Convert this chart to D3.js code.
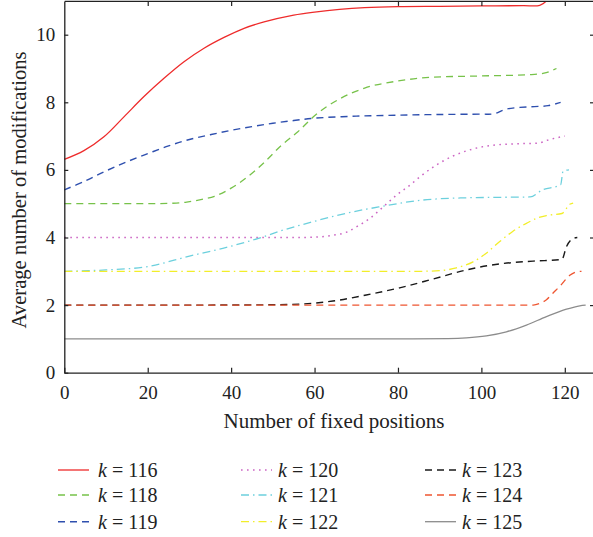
<!DOCTYPE html>
<html>
<head>
<meta charset="utf-8">
<script src="https://cdn.jsdelivr.net/npm/d3@7"></script>
<style>
body { margin: 0; background: #fff; }
svg { display: block; font-family: "Liberation Serif", "DejaVu Serif", serif; }
</style>
</head>
<body>
<svg id="chart" width="593" height="537"></svg>
<script>
// values: [fixed positions, average modifications]
var k116 = [[0,6.31],[4.7,6.57],[9.5,6.98],[14.3,7.57],[19.1,8.17],[23.9,8.71],[28.7,9.2],[33.5,9.6],[38.3,9.92],[43.1,10.19],[47.9,10.38],[55,10.58],[60,10.67],[66,10.75],[72,10.8],[80,10.83],[90,10.84],[100,10.85],[110,10.86],[114,10.87],[116,11.05],[117,11.3]];
var k118 = [[0,5],[10,5],[20,5],[25,5.01],[29,5.04],[33,5.13],[36,5.22],[40,5.46],[44,5.8],[48,6.23],[52,6.72],[56,7.13],[60,7.6],[66,8.1],[72,8.42],[80,8.63],[88,8.74],[100,8.78],[112,8.82],[115,8.86],[118,9.0]];
var k119 = [[0,5.41],[5,5.67],[10,5.97],[15,6.24],[20,6.48],[25,6.71],[30,6.9],[35,7.04],[40,7.17],[45,7.28],[50,7.38],[55,7.46],[60,7.53],[70,7.59],[80,7.62],[90,7.64],[100,7.65],[103,7.66],[106,7.8],[112,7.87],[116,7.9],[119,8.0]];
var k120 = [[0,4],[20,4],[40,4],[55,4],[60,4.01],[64.5,4.07],[67.7,4.16],[70.1,4.32],[73.3,4.57],[76.5,4.91],[79.7,5.26],[82.9,5.55],[85.3,5.8],[88.9,6.12],[93.2,6.41],[98,6.62],[102,6.72],[108,6.77],[113.7,6.79],[115.6,6.87],[120,7.0]];
var k121 = [[0,3.0],[10,3.04],[20,3.14],[30,3.45],[38,3.68],[47.7,4.02],[52,4.2],[59.7,4.47],[67.7,4.72],[75.7,4.91],[85.3,5.1],[95,5.17],[105,5.19],[111.7,5.2],[114.5,5.4],[119,5.56],[119.6,5.97],[121,6.0]];
var k122 = [[0,3],[30,3],[60,3],[85,3],[90,3.02],[94,3.1],[98,3.28],[101,3.52],[104.4,3.88],[107.5,4.18],[110.8,4.42],[113.5,4.58],[115.6,4.65],[119.3,4.71],[121.3,4.99],[122,5.02]];
var k123 = [[0,2],[30,2],[50,2.01],[56.5,2.03],[64.4,2.12],[72.4,2.3],[80.4,2.51],[88.4,2.77],[96.4,3.04],[104.4,3.22],[112.4,3.3],[119.3,3.35],[120.4,3.73],[122,3.97],[123,4.0]];
var k124 = [[0,2],[40,2],[80,2],[112.4,2.0],[114,2.05],[115.6,2.16],[117.2,2.36],[118.9,2.57],[121.2,2.88],[123,2.99],[124,3.0]];
var k125 = [[0,1],[40,1],[80,1],[92,1.01],[96.4,1.03],[101.2,1.09],[106,1.21],[110.8,1.41],[115.6,1.66],[120.4,1.88],[123.6,1.98],[125,2.0]];

var seriesNames = ["k = 116","k = 118","k = 119","k = 120","k = 121","k = 122","k = 123","k = 124","k = 125"];
var seriesData = [k116,k118,k119,k120,k121,k122,k123,k124,k125];
var xTicks = [0,20,40,60,80,100,120];
var yTicks = [0,2,4,6,8,10];

var colors = ["#ee2b2b","#77c24a","#2e4fae","#cc66c4","#6cd0dd","#f2ee2a","#1a1a1a","#ee5530","#8c8c8c"];
var dashes = [null,"7,5","7,5","1.6,4.4","8,4,1.5,4","8,4,1.5,4","7,5","7,5",null];
var widths = [1.3,1.3,1.4,1.5,1.3,1.3,1.4,1.3,1.3];

var svg = d3.select("#chart");
var x = d3.scaleLinear().domain([0,127]).range([64.3,594]);
var y = d3.scaleLinear().domain([0,11]).range([372.7,0.9]);

svg.append("clipPath").attr("id","clip")
  .append("rect").attr("x",64).attr("y",0.9).attr("width",540).attr("height",372);

function lineFor(i) {
  // red and blue are smooth throughout; the others have sharp steps near the end
  var curve = (i === 0 || i === 2) ? d3.curveCatmullRom.alpha(0.5) : d3.curveMonotoneX;
  return d3.line()
    .x(function(d){ return x(d[0]); })
    .y(function(d){ return y(d[1]); })
    .curve(curve);
}

var plot = svg.append("g").attr("clip-path","url(#clip)");
plot.selectAll("path")
  .data(seriesData)
  .enter().append("path")
  .attr("d", function(d,i){ return lineFor(i)(d); })
  .attr("fill","none")
  .attr("stroke", function(d,i){ return colors[i]; })
  .attr("stroke-width", function(d,i){ return widths[i]; })
  .attr("stroke-dasharray", function(d,i){ return dashes[i]; });

// axes, ticks pointing inward
var bottom = svg.append("g").attr("transform","translate(0,372.7)")
  .call(d3.axisBottom(x).tickValues(xTicks).tickSizeInner(-5).tickSizeOuter(0).tickPadding(13));
var top = svg.append("g").attr("transform","translate(0,0.9)")
  .call(d3.axisTop(x).tickValues(xTicks.slice(1)).tickSizeInner(-5).tickSizeOuter(0).tickFormat(""));
var left = svg.append("g").attr("transform","translate(64.3,0)")
  .call(d3.axisLeft(y).tickValues(yTicks).tickSizeInner(-4).tickSizeOuter(0).tickPadding(9));
var right = svg.append("g").attr("transform","translate(594,0)")
  .call(d3.axisRight(y).tickValues(yTicks.slice(1)).tickSizeInner(-4).tickSizeOuter(0).tickFormat(""));

svg.selectAll(".domain").attr("stroke","#222").attr("stroke-width",1.3);
svg.selectAll(".tick line").attr("stroke","#222").attr("stroke-width",1.2);
svg.selectAll(".tick text").attr("fill","#222").style("font-size","19px")
  .style("font-family","'Liberation Serif', serif");

svg.append("text")
  .attr("x",334).attr("y",428)
  .attr("text-anchor","middle")
  .style("font-size","21px").attr("fill","#222")
  .text("Number of fixed positions");

svg.append("text")
  .attr("transform","translate(26,190) rotate(-90)")
  .attr("text-anchor","middle")
  .style("font-size","20.6px").attr("fill","#222")
  .text("Average number of modifications");

// legend: three columns of three
var legX = [58,241,425];
var legY = [470,495,521.7];
var leg = svg.append("g").selectAll("g")
  .data(seriesNames)
  .enter().append("g")
  .attr("transform", function(d,i){ return "translate(" + legX[Math.floor(i/3)] + "," + legY[i%3] + ")"; });

leg.append("line")
  .attr("x1",0).attr("x2",31)
  .attr("stroke", function(d,i){ return colors[i]; })
  .attr("stroke-width", function(d,i){ return widths[i]; })
  .attr("stroke-dasharray", function(d,i){ return dashes[i]; });

var lt = leg.append("text")
  .attr("x", function(d,i){ return i < 3 ? 40 : 37; })
  .attr("y",7)
  .style("font-size","20px").attr("fill","#222");
lt.append("tspan").style("font-style","italic").text("k");
lt.append("tspan").text(function(d){ return d.slice(1); });
</script>
</body>
</html>
